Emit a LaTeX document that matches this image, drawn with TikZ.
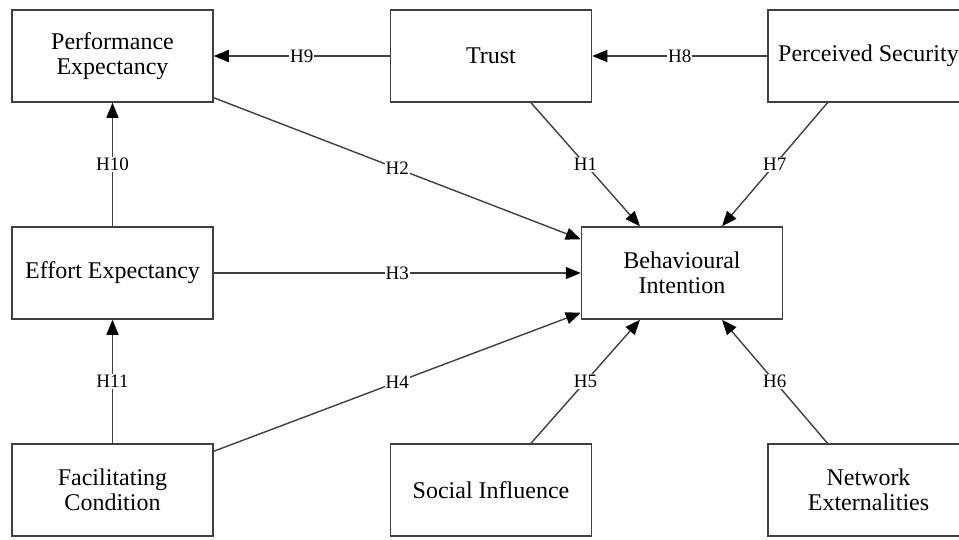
\documentclass[tikz,border=0pt]{standalone}
\usepackage{fontspec}
\setmainfont{Liberation Serif}
\usetikzlibrary{arrows.meta}
\begin{document}
\begin{tikzpicture}[x=1pt,y=-1pt,
 box/.style={draw=black!75,line width=1.5pt,minimum width=201pt,minimum height=92pt,inner sep=0pt,align=center,font=\fontsize{24}{25}\selectfont},
 link/.style={draw=black!75,line width=1.4pt,-{Triangle[length=15pt,width=12pt,color=black]}},
 lab/.style={fill=white,inner sep=1pt,font=\fontsize{19}{19}\selectfont}]
\useasboundingbox (0,0) rectangle (959,539);
\clip (0,0) rectangle (959,539);
\fill[white] (0,0) rectangle (959,539);
\node[box] (pe) at (112.5,56) {Performance\\Expectancy};
\node[box] (tr) at (491,56) {Trust};
\node[box] (ps) at (868.5,56) {Perceived Security};
\node[box] (ee) at (112.5,273) {Effort Expectancy};
\node[box] (bi) at (682,273) {Behavioural\\Intention};
\node[box] (fc) at (112.5,490) {Facilitating\\Condition};
\node[box] (si) at (491,490) {Social Influence};
\node[box] (ne) at (868.5,490) {Network\\Externalities};
\draw[link] (tr.west) -- node[lab]{H9} (pe.east);
\draw[link] (ps.west) -- node[lab]{H8} (tr.east);
\draw[link] (ee.north) -- node[lab]{H10} (pe.south);
\draw[link] (fc.north) -- node[lab]{H11} (ee.south);
\draw[link] (ee.east) -- node[lab]{H3} (bi.west);
\draw[link] ([yshift=5pt]pe.south east) -- node[lab]{H2} ([yshift=-13pt]bi.north west);
\draw[link] ([yshift=-8pt]fc.north east) -- node[lab]{H4} ([yshift=7pt]bi.south west);
\draw[link] ([xshift=40pt]tr.south) -- node[lab]{H1} ([xshift=-42pt]bi.north);
\draw[link] ([xshift=-41pt]ps.south) -- node[lab]{H7} ([xshift=40pt]bi.north);
\draw[link] ([xshift=40pt]si.north) -- node[lab]{H5} ([xshift=-42pt]bi.south);
\draw[link] ([xshift=-41pt]ne.north) -- node[lab]{H6} ([xshift=40pt]bi.south);
\end{tikzpicture}
\end{document}
